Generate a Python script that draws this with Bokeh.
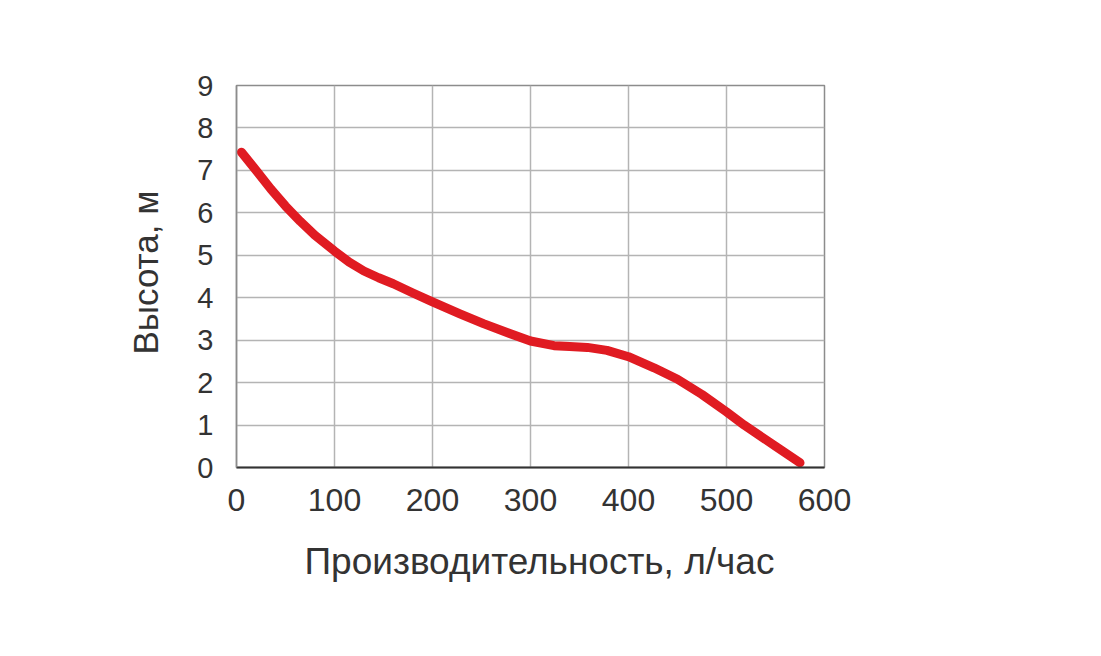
from bokeh.plotting import figure
from bokeh.models import Range1d, FixedTicker, Title
from bokeh.embed import file_html
from bokeh.resources import INLINE

flow = [5, 20, 35, 50, 65, 80, 100, 115, 130, 145, 160, 180, 200, 228, 252, 276, 300, 324, 340, 358, 378, 400, 426, 450, 475, 500, 518, 550, 575]
head = [7.43, 7.0, 6.56, 6.16, 5.8, 5.47, 5.1, 4.84, 4.63, 4.47, 4.33, 4.11, 3.9, 3.62, 3.39, 3.18, 2.98, 2.87, 2.85, 2.83, 2.76, 2.61, 2.35, 2.08, 1.72, 1.31, 1.0, 0.5, 0.11]
x_ticks = [0, 100, 200, 300, 400, 500, 600]
y_ticks = [0, 1, 2, 3, 4, 5, 6, 7, 8, 9]
x_title = "Производительность, л/час"
y_title = "Высота, м"

FONT = "Liberation Sans"
TXT = "#333333"

p = figure(width=1085, height=640, output_backend="svg", toolbar_location=None,
           x_range=Range1d(0, 600), y_range=Range1d(0, 9),
           min_border_left=236, min_border_right=261, min_border_top=85, min_border_bottom=173)
p.outline_line_color = "#8c8c8c"
p.outline_line_width = 1.5

for ax in (p.xaxis[0], p.yaxis[0]):
    ax.major_tick_line_color = None
    ax.minor_tick_line_color = None
    ax.major_label_text_font = FONT
    ax.major_label_text_color = TXT

p.xaxis.major_label_text_font_size = "32px"
p.yaxis.major_label_text_font_size = "29px"

p.xaxis.ticker = FixedTicker(ticks=x_ticks)
p.yaxis.ticker = FixedTicker(ticks=y_ticks)
p.xaxis.axis_line_color = "#333333"
p.xaxis.axis_line_width = 2
p.yaxis.axis_line_color = "#8c8c8c"
p.yaxis.axis_line_width = 1.5
p.xaxis.major_label_standoff = 15
p.yaxis.major_label_standoff = 17

p.xgrid.ticker = FixedTicker(ticks=x_ticks)
p.ygrid.ticker = FixedTicker(ticks=y_ticks)
p.grid.grid_line_color = "#b4b4b4"
p.grid.grid_line_width = 1.5

p.line(flow, head, line_color="#e01b22", line_width=9, line_cap="round", line_join="round")

p.add_layout(Title(text=x_title, text_font=FONT, text_font_size="37px", text_color=TXT,
                   text_font_style="normal", align="left", offset=68, standoff=50), "below")
p.add_layout(Title(text=y_title, text_font=FONT, text_font_size="35px", text_color=TXT,
                   text_font_style="normal", align="left", offset=113, standoff=60), "left")

open("out.html", "w").write(file_html(p, INLINE))
